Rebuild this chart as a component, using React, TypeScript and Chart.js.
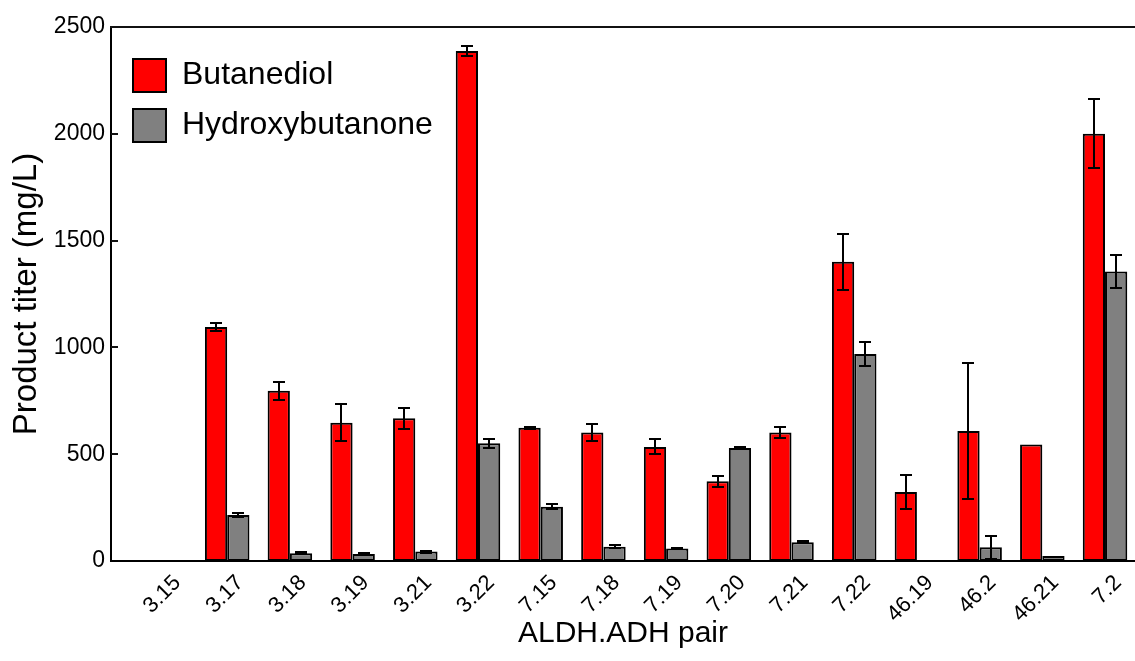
import React, { useEffect, useRef } from 'react';
import { Chart, registerables } from 'chart.js';

Chart.register(...registerables);

const categories = ['3.15', '3.17', '3.18', '3.19', '3.21', '3.22', '7.15', '7.18', '7.19', '7.20', '7.21', '7.22', '46.19', '46.2', '46.21', '7.2'];
const butanediol = [0, 1095, 797, 647, 668, 2388, 624, 602, 534, 373, 602, 1401, 323, 609, 545, 2000];
const butanediolErr = [0, 18, 43, 86, 48, 22, 5, 40, 35, 25, 24, 131, 81, 319, 0, 161];
const hydroxy = [3, 215, 36, 33, 44, 551, 254, 67, 58, 529, 88, 969, 2, 64, 23, 1355];
const hydroxyErr = [0, 10, 5, 4, 5, 21, 12, 8, 4, 6, 4, 56, 0, 55, 0, 79];
const yTickValues = [0, 500, 1000, 1500, 2000, 2500];

const FONT = "'Liberation Sans', Arial, Helvetica, sans-serif";

export default function App() {
  const ref = useRef<HTMLCanvasElement>(null);

  useEffect(() => {
    if (!ref.current) return;
    Chart.defaults.font.family = FONT;

    const errorBars = {
      id: 'errorBars',
      afterDatasetsDraw(chart: any) {
        const ctx = chart.ctx;
        const yScale = chart.scales.y;
        const vals = [butanediol, hydroxy];
        const errs = [butanediolErr, hydroxyErr];
        ctx.save();
        ctx.strokeStyle = '#000';
        ctx.lineWidth = 2;
        chart.data.datasets.forEach((_ds: any, d: number) => {
          const meta = chart.getDatasetMeta(d);
          meta.data.forEach((bar: any, i: number) => {
            const e = errs[d][i];
            if (!e) return;
            const v = vals[d][i];
            const x = Math.round(bar.x);
            const yt = Math.round(yScale.getPixelForValue(v + e));
            const yb = Math.round(yScale.getPixelForValue(Math.max(v - e, 0)));
            const cap = 6;
            ctx.beginPath();
            ctx.moveTo(x, yt);
            ctx.lineTo(x, yb);
            ctx.moveTo(x - cap, yt);
            ctx.lineTo(x + cap, yt);
            ctx.moveTo(x - cap, yb);
            ctx.lineTo(x + cap, yb);
            ctx.stroke();
          });
        });
        ctx.restore();
      },
    };

    const frame = {
      id: 'frame',
      afterDraw(chart: any) {
        const ctx = chart.ctx;
        const { left, right, top } = chart.chartArea;
        const yScale = chart.scales.y;
        ctx.save();
        ctx.strokeStyle = '#111';
        ctx.lineWidth = 2;
        ctx.beginPath();
        ctx.moveTo(left - 1, Math.round(top));
        ctx.lineTo(right, Math.round(top));
        yTickValues.forEach((v) => {
          if (v === 0) return;
          const py = Math.round(yScale.getPixelForValue(v));
          ctx.moveTo(left, py);
          ctx.lineTo(left + 7, py);
        });
        ctx.stroke();
        ctx.restore();
      },
    };

    const legendShift = {
      id: 'legendShift',
      afterLayout(chart: any) {
        if (chart.legend) {
          chart.legend.left += 5;
          chart.legend.top += 27;
        }
      },
    };

    const chart = new Chart(ref.current, {
      type: 'bar',
      data: {
        datasets: [
          {
            label: 'Butanediol',
            data: butanediol.map((y, i) => ({ x: i, y })),
            backgroundColor: '#ff0000',
            borderColor: '#000',
            borderWidth: 2,
            borderSkipped: false,
            categoryPercentage: 0.71,
            barPercentage: 1,
          },
          {
            label: 'Hydroxybutanone',
            data: hydroxy.map((y, i) => ({ x: i, y })),
            backgroundColor: '#808080',
            borderColor: '#000',
            borderWidth: 2,
            borderSkipped: false,
            categoryPercentage: 0.71,
            barPercentage: 1,
          },
        ],
      },
      options: {
        animation: false,
        responsive: true,
        maintainAspectRatio: false,
        devicePixelRatio: 1,
        layout: { padding: { top: 27, left: 0, right: 0, bottom: 0 } },
        plugins: {
          tooltip: { enabled: false },
          legend: {
            position: 'chartArea',
            align: 'start',
            title: { display: true, text: '', font: { size: 10 }, padding: { top: 3, bottom: 0 } },
            labels: {
              boxWidth: 33,
              boxHeight: 33,
              padding: 17,
              color: '#000',
              font: { size: 32, family: FONT },
            },
          },
        },
        scales: {
          x: {
            type: 'linear',
            offset: false,
            min: -0.853,
            max: 15.478,
            bounds: 'ticks',
            afterBuildTicks: (s: any) => {
              s.ticks = categories.map((_c, i) => ({ value: i }));
            },
            afterFit: (s: any) => {
              s.height = 100;
            },
            grid: { display: false, drawTicks: false, offset: false },
            border: { display: true, color: '#000', width: 2 },
            ticks: {
              stepSize: 1,
              autoSkip: false,
              minRotation: 45,
              maxRotation: 45,
              padding: 9,
              labelOffset: 13,
              color: '#000',
              font: { size: 22, family: FONT },
              callback: (v: any) => categories[v] ?? '',
            },
            title: {
              display: true,
              text: 'ALDH.ADH pair',
              color: '#000',
              font: { size: 30, family: FONT },
              padding: { top: 0, bottom: 9 },
            },
          },
          y: {
            min: 0,
            max: 2500,
            afterFit: (s: any) => {
              s.width = 111;
            },
            grid: { display: false, drawTicks: false },
            border: { display: true, color: '#000', width: 2 },
            ticks: {
              stepSize: 500,
              padding: 6,
              color: '#000',
              font: { size: 23, family: FONT },
              callback: (v: any) => String(v),
            },
            title: {
              display: true,
              text: 'Product titer (mg/L)',
              color: '#000',
              font: { size: 33, family: FONT },
              padding: { top: 7, bottom: 0 },
            },
          },
        },
      },
      plugins: [errorBars, frame, legendShift],
    } as any);

    return () => chart.destroy();
  }, []);

  return (
    <div style={{ position: 'absolute', left: 0, top: 0, width: 1135, height: 661 }}>
      <canvas ref={ref} />
    </div>
  );
}
